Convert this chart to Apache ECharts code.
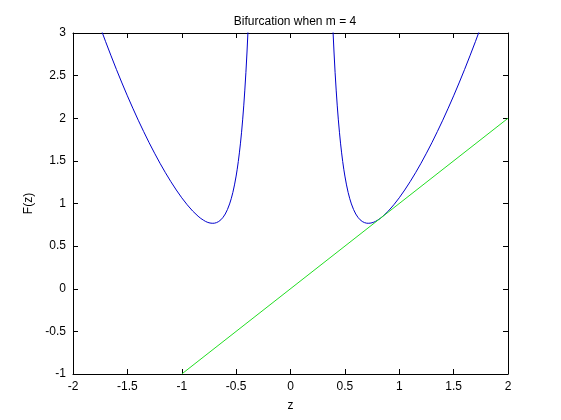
<!DOCTYPE html>
<html>
<head>
<meta charset="utf-8">
<script src="https://cdn.jsdelivr.net/npm/echarts@6/dist/echarts.min.js"></script>
<style>
html,body{margin:0;padding:0;background:#fff;}
#c{width:561px;height:420px;}
</style>
</head>
<body>
<div id="c"></div>
<script>
// Left branch (z < 0)
var leftZ = [-1.75,-1.70,-1.65,-1.60,-1.55,-1.50,-1.45,-1.40,-1.35,-1.30,-1.25,-1.20,-1.15,-1.10,-1.05,-1.00,-0.95,-0.90,-0.85,-0.825,-0.80,-0.78,-0.76,-0.74,-0.72,-0.70,-0.68,-0.66,-0.64,-0.62,-0.60,-0.58,-0.56,-0.545,-0.53,-0.515,-0.50,-0.49,-0.48,-0.47,-0.46,-0.45,-0.44,-0.43,-0.42,-0.41,-0.40,-0.39];
var leftF = [3.070,2.898,2.732,2.570,2.414,2.263,2.118,1.977,1.843,1.713,1.590,1.472,1.361,1.256,1.158,1.067,0.985,0.912,0.851,0.825,0.804,0.789,0.778,0.771,0.768,0.769,0.776,0.789,0.809,0.838,0.877,0.929,0.995,1.056,1.130,1.218,1.322,1.402,1.493,1.594,1.708,1.836,1.981,2.145,2.330,2.539,2.777,3.048];
// Right branch (z > 0)
var rightZ = [0.39,0.40,0.41,0.42,0.43,0.44,0.45,0.46,0.47,0.48,0.49,0.50,0.515,0.53,0.545,0.56,0.58,0.60,0.62,0.64,0.66,0.68,0.70,0.72,0.74,0.76,0.78,0.80,0.825,0.85,0.90,0.95,1.00,1.05,1.10,1.15,1.20,1.25,1.30,1.35,1.40,1.45,1.50,1.55,1.60,1.65,1.70,1.75];
var rightF = [3.048,2.777,2.539,2.330,2.145,1.981,1.836,1.708,1.594,1.493,1.402,1.322,1.218,1.130,1.056,0.995,0.929,0.877,0.838,0.809,0.789,0.776,0.769,0.768,0.771,0.778,0.789,0.804,0.825,0.851,0.912,0.985,1.067,1.158,1.256,1.361,1.472,1.590,1.713,1.843,1.977,2.118,2.263,2.414,2.570,2.732,2.898,3.070];
// Line F = z
var lineZ = [-1, 2];
var lineF = [-1, 2];

var xTicks = [-2,-1.5,-1,-0.5,0,0.5,1,1.5,2];
var yTicks = [-1,-0.5,0,0.5,1,1.5,2,2.5,3];

function pairs(a,b){ return a.map(function(v,i){ return [v,b[i]]; }); }
var font = 'Liberation Sans, Arial, sans-serif';

function mkX(pos, show){
  return {
    type:'value', position:pos, min:-2, max:2, interval:0.5,
    axisLine:{show:true, onZero:false, lineStyle:{color:'#000', width:1}},
    axisTick:{show:true, inside:true, length:5, lineStyle:{color:'#000'}},
    axisLabel:{show:show, color:'#000', fontFamily:font, fontSize:12, margin:7,
      formatter:function(v){ return String(v); }},
    splitLine:{show:false},
    name: show ? 'z' : '', nameLocation:'middle', nameGap:26,
    nameTextStyle:{color:'#000', fontFamily:font, fontSize:12}
  };
}
function mkY(pos, show){
  return {
    type:'value', position:pos, min:-1, max:3, interval:0.5,
    axisLine:{show:true, onZero:false, lineStyle:{color:'#000', width:1}},
    axisTick:{show:true, inside:true, length:5, lineStyle:{color:'#000'}},
    axisLabel:{show:show, color:'#000', fontFamily:font, fontSize:12, margin:7,
      formatter:function(v){ return String(v); }},
    splitLine:{show:false},
    name: show ? 'F(z)' : '', nameLocation:'middle', nameGap:34, nameRotate:90,
    nameTextStyle:{color:'#000', fontFamily:font, fontSize:12}
  };
}

var chart = echarts.init(document.getElementById('c'), null, {renderer:'canvas'});
chart.setOption({
  backgroundColor:'#fff',
  animation:false,
  title:{text:'Bifurcation when m = 4', left:290, top:11, textAlign:'center',
    textStyle:{color:'#000', fontFamily:font, fontSize:12, fontWeight:'normal'}},
  grid:{left:73, right:53, top:33, bottom:46, containLabel:false},
  xAxis:[mkX('bottom', true), mkX('top', false)],
  yAxis:[mkY('left', true), mkY('right', false)],
  series:[
    {type:'line', data:pairs(leftZ,leftF), showSymbol:false, clip:true,
      lineStyle:{color:'#0000cc', width:1}, smooth:false},
    {type:'line', data:pairs(rightZ,rightF), showSymbol:false, clip:true,
      lineStyle:{color:'#0000cc', width:1}, smooth:false},
    {type:'line', data:pairs(lineZ,lineF), showSymbol:false, clip:true,
      lineStyle:{color:'#22dd22', width:1}}
  ]
});
</script>
</body>
</html>
